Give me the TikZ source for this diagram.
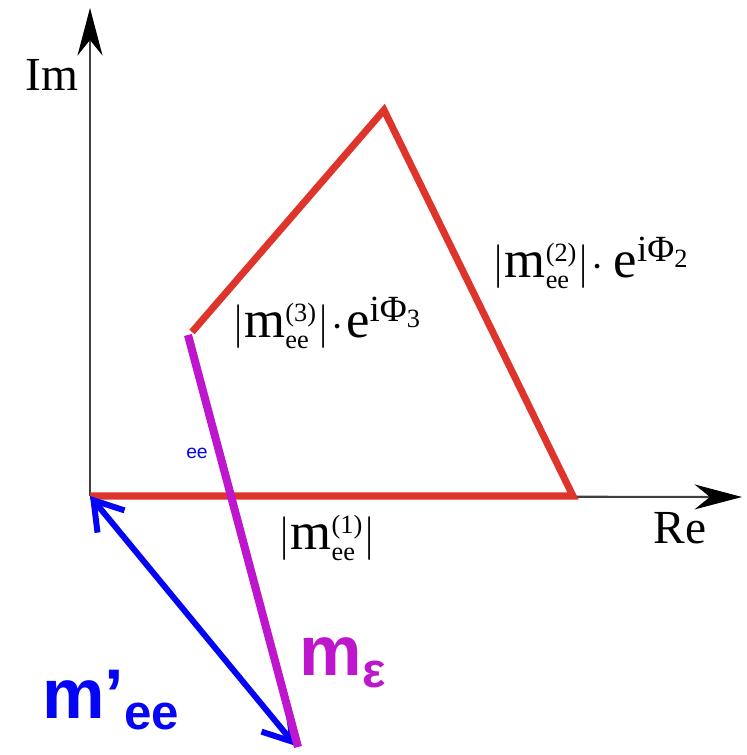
\documentclass[tikz,border=0pt]{standalone}
\usepackage{fontspec}
\setmainfont{Liberation Serif}
\newfontfamily\arialfont{Liberation Sans}
\usepackage{amsmath}
\usetikzlibrary{
  arrows.meta,
  positioning}
\definecolor{sidered}{RGB}{222,52,44}
\definecolor{epsmag}{RGB}{190,22,205}
\definecolor{eeblue}{RGB}{5,5,245}
\newcommand{\mee}[1]{|\text{m}^{\scriptscriptstyle\text{(#1)}}_{\scriptscriptstyle\text{ee}}|}

\begin{document}
\begin{tikzpicture}[
  x=0.02cm, y=-0.02cm,
  axis/.style={line width=1.2pt,draw=black!75,-{Stealth[length=0.95cm,width=0.5cm,color=black]}},
  side/.style={line width=4pt,draw=sidered,line join=miter},
  lbl/.style={font=\fontsize{27}{30}\selectfont,inner sep=0pt},
  mlbl/.style={font=\fontsize{30}{33}\selectfont,inner sep=0pt},
  big/.style={font=\arialfont\bfseries\fontsize{40}{44}\selectfont,inner sep=0pt}
]%
  \useasboundingbox (0,0) rectangle (747,755);

  % axes
  \coordinate (O) at (90,496);
  \coordinate (ytip) at (90,8);
  \coordinate (xtip) at (742,497);
  \draw[axis] (O) -- (ytip);
  \draw[axis] (O) -- (xtip);
  \node[lbl] (im) at (52,75) {Im};
  \node[lbl] (re) at (680,528) {Re};

  % red triangle sides
  \coordinate (A) at (573,496);
  \coordinate (B) at (384,110);
  \coordinate (C) at (192,332);
  \draw[side] (O) -- (A) -- (B) -- (C);
  \node[mlbl] (m1) at (327,538) {$\mee{1}$};
  \node[mlbl] (m2) at (591,263) {$\mee{2}\!\cdot\text{e}^{\text{iΦ}_{\text{2}}}$};
  \node[mlbl] (m3) at (327,323) {$\mee{3}\!\cdot\!\text{e}^{\text{iΦ}_{\text{3}}}$};

  % m'_ee and m_eps
  \coordinate (E) at (296,746);
  \coordinate (M1) at (188,335);
  \coordinate (M2) at (298,747);
  \draw[line width=3.4pt,draw=eeblue,line cap=round,
    {Straight Barb[length=0.55cm,width=0.7cm]}-{Straight Barb[length=0.55cm,width=0.7cm]}] (O) -- (E);
  \draw[line width=4.6pt,draw=epsmag] (M1) -- (M2);
  \node[font=\arialfont\fontsize{11}{12}\selectfont,text=eeblue] (ee) at (197,453) {ee};
  \node[big,text=eeblue] (mee) at (111,700) {m’\textsubscript{ee}};
  \node[big,text=epsmag] (meps) at (343,663) {m\textsubscript{ε}};
\end{tikzpicture}
\end{document}
